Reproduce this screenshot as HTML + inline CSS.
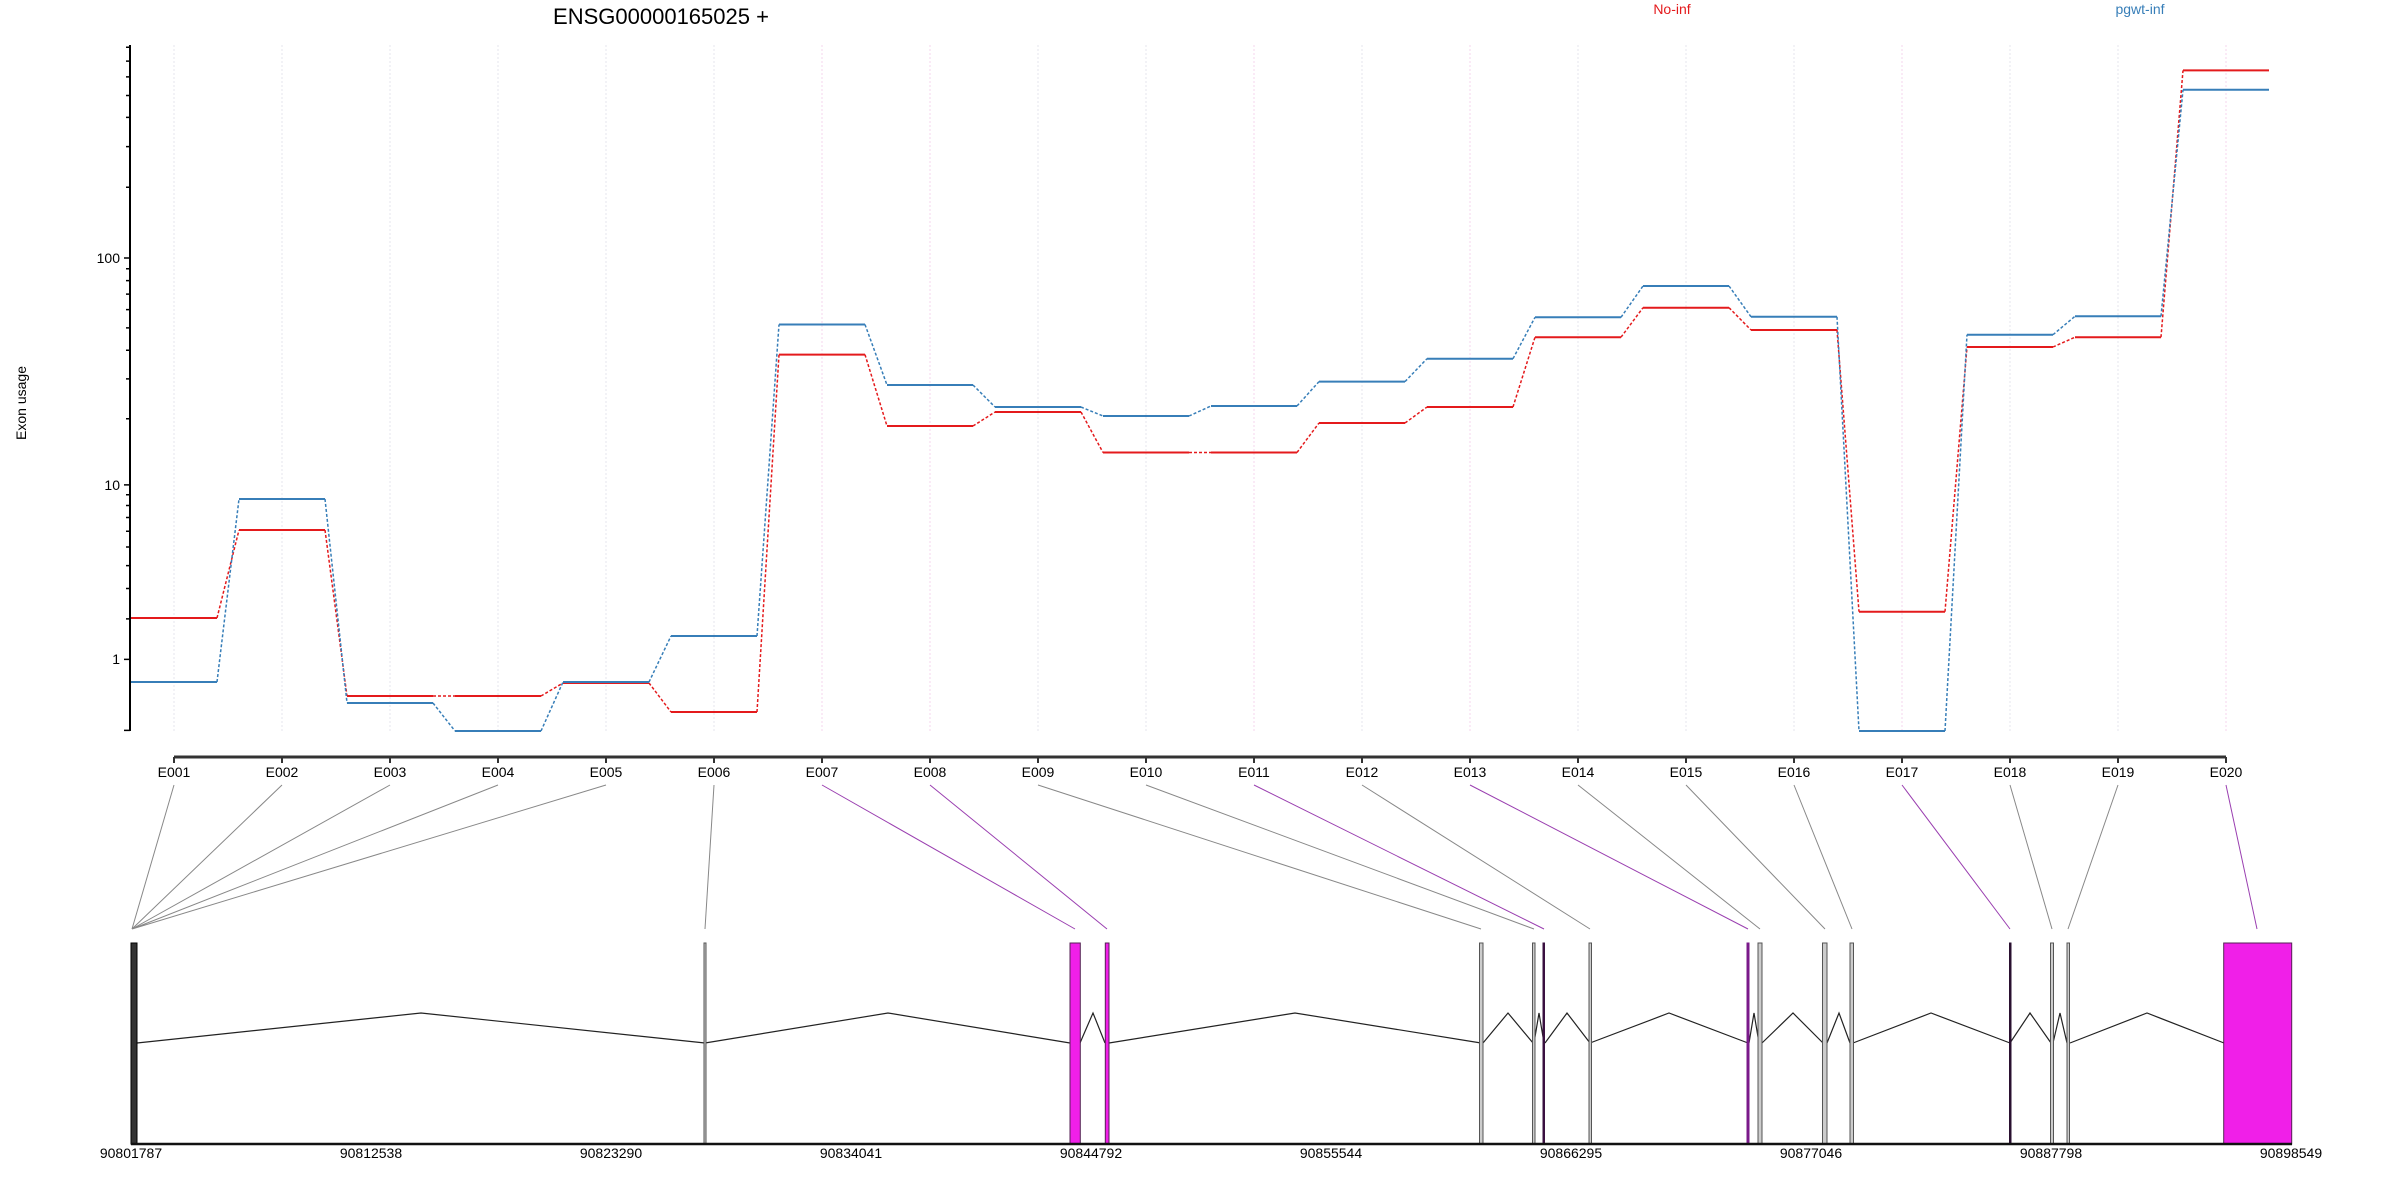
<!DOCTYPE html>
<html><head><meta charset="utf-8"><style>
html,body{margin:0;padding:0;background:#fff;}
svg{display:block;font-family:"Liberation Sans",sans-serif;}
</style></head><body>
<svg width="2400" height="1200" viewBox="0 0 2400 1200" xmlns="http://www.w3.org/2000/svg">
<rect width="2400" height="1200" fill="#fff"/>
<g stroke-width="1" stroke-dasharray="2,2">
<path d="M174 45V731M282 45V731M390 45V731M498 45V731M606 45V731M714 45V731M1038 45V731M1146 45V731M1362 45V731M1578 45V731M1686 45V731M1794 45V731M1902 45V731M2010 45V731M2118 45V731" stroke="#e4e4ec"/>
<path d="M822 45V731M930 45V731M1254 45V731M1470 45V731M1902 45V731M2226 45V731" stroke="#f6d6ee"/>
</g>
<text x="661" y="24" font-size="22" text-anchor="middle" fill="#000">ENSG00000165025 +</text>
<text x="1672" y="14" font-size="14" text-anchor="middle" fill="#e41a1c">No-inf</text>
<text x="2140" y="14" font-size="14" text-anchor="middle" fill="#377eb8">pgwt-inf</text>
<text transform="translate(26,403) rotate(-90)" font-size="14" text-anchor="middle">Exon usage</text>
<path d="M130 45V731" stroke="#000" stroke-width="2"/>
<path d="M124 730.4H130M124 659.4H130M126 618.9H130M126 588.5H130M126 565.6H130M126 547H130M126 531.2H130M126 517.5H130M126 505.5H130M126 494.7H130M124 484.9H130M126 418.8H130M126 378.9H130M126 350.3H130M126 327.9H130M126 309.6H130M126 294.1H130M126 280.6H130M126 268.7H130M124 258H130M126 187.2H130M126 146.6H130M126 117.4H130M126 95.5H130M126 76.9H130M126 61.1H130M126 47.3H130" stroke="#000" stroke-width="1.5"/>
<g font-size="14" text-anchor="end">
<text x="120" y="263">100</text><text x="120" y="490">10</text><text x="120" y="664">1</text>
</g>
<path d="M217 618L239 530M325 530L347 696M433 696L455 696M541 696L563 683M649 683L671 712M757 712L779 354.6M865 354.6L887 426M973 426L995 412M1081 412L1103 452.5M1189 452.5L1211 452.5M1297 452.5L1319 423M1405 423L1427 407M1513 407L1535 337.2M1621 337.2L1643 307.7M1729 307.7L1751 330M1837 330L1859 611.7M1945 611.7L1967 347M2053 347L2075 337.2M2161 337.2L2183 70.4" stroke="#e41a1c" stroke-width="1.5" stroke-dasharray="3,2" fill="none"/>
<path d="M217 682L239 499M325 499L347 703M433 703L455 731M541 731L563 682M649 682L671 636M757 636L779 324.5M865 324.5L887 385M973 385L995 407M1081 407L1103 416M1189 416L1211 406M1297 406L1319 381.6M1405 381.6L1427 358.7M1513 358.7L1535 317.3M1621 317.3L1643 286M1729 286L1751 316.8M1837 316.8L1859 731M1945 731L1967 334.7M2053 334.7L2075 316.3M2161 316.3L2183 89.8" stroke="#377eb8" stroke-width="1.5" stroke-dasharray="3,2" fill="none"/>
<path d="M131 618H217M239 530H325M347 696H433M455 696H541M563 683H649M671 712H757M779 354.6H865M887 426H973M995 412H1081M1103 452.5H1189M1211 452.5H1297M1319 423H1405M1427 407H1513M1535 337.2H1621M1643 307.7H1729M1751 330H1837M1859 611.7H1945M1967 347H2053M2075 337.2H2161M2183 70.4H2269" stroke="#e41a1c" stroke-width="2" fill="none"/>
<path d="M131 682H217M239 499H325M347 703H433M455 731H541M563 682H649M671 636H757M779 324.5H865M887 385H973M995 407H1081M1103 416H1189M1211 406H1297M1319 381.6H1405M1427 358.7H1513M1535 317.3H1621M1643 286H1729M1751 316.8H1837M1859 731H1945M1967 334.7H2053M2075 316.3H2161M2183 89.8H2269" stroke="#377eb8" stroke-width="2" fill="none"/>
<path d="M174 757H2226" stroke="#333" stroke-width="3"/>
<path d="M174 757V763M282 757V763M390 757V763M498 757V763M606 757V763M714 757V763M822 757V763M930 757V763M1038 757V763M1146 757V763M1254 757V763M1362 757V763M1470 757V763M1578 757V763M1686 757V763M1794 757V763M1902 757V763M2010 757V763M2118 757V763M2226 757V763" stroke="#333" stroke-width="2"/>
<g font-size="14" text-anchor="middle">
<text x="174" y="777">E001</text><text x="282" y="777">E002</text><text x="390" y="777">E003</text><text x="498" y="777">E004</text><text x="606" y="777">E005</text><text x="714" y="777">E006</text><text x="822" y="777">E007</text><text x="930" y="777">E008</text><text x="1038" y="777">E009</text><text x="1146" y="777">E010</text><text x="1254" y="777">E011</text><text x="1362" y="777">E012</text><text x="1470" y="777">E013</text><text x="1578" y="777">E014</text><text x="1686" y="777">E015</text><text x="1794" y="777">E016</text><text x="1902" y="777">E017</text><text x="2010" y="777">E018</text><text x="2118" y="777">E019</text><text x="2226" y="777">E020</text>
</g>
<path d="M174 785L132 929M282 785L132 929M390 785L132 929M498 785L132 929M606 785L132 929M714 785L705 929M1038 785L1481 929M1146 785L1534 929M1362 785L1590 929M1578 785L1760 929M1686 785L1825 929M1794 785L1852 929M2010 785L2052 929M2118 785L2068 929" stroke="#888" stroke-width="1" fill="none"/>
<path d="M822 785L1075 929M930 785L1107 929M1254 785L1544 929M1470 785L1748 929M1902 785L2010 929M2226 785L2257 929" stroke="#9a3fb0" stroke-width="1" fill="none"/>
<path d="M137 1043L421 1013L705 1043M705 1043L888 1013L1070 1043M1080 1043L1093 1013L1105 1043M1109 1043L1295 1013L1481 1043M1483 1043L1508 1013L1533 1043M1534 1043L1539 1013L1544 1043M1545 1043L1567 1013L1590 1043M1590 1043L1669 1013L1748 1043M1749 1043L1754 1013L1759 1043M1762 1043L1793 1013L1823 1043M1827 1043L1839 1013L1850 1043M1853 1043L1931 1013L2010 1043M2010 1043L2030 1013L2051 1043M2053 1043L2060 1013L2067 1043M2070 1043L2147 1013L2224 1043" stroke="#222" stroke-width="1.2" fill="none"/>
<g stroke="#555" stroke-width="1" fill="#ccc">
<rect x="131" y="943" width="6" height="201" fill="#333" stroke="#000"/>
<rect x="704" y="943" width="2" height="201"/>
<rect x="1479.5" y="943" width="3.5" height="201"/>
<rect x="1532.5" y="943" width="2.5" height="201"/>
<rect x="1589" y="943" width="2.5" height="201"/>
<rect x="1758" y="943" width="4" height="201"/>
<rect x="1822.5" y="943" width="4.5" height="201"/>
<rect x="1850" y="943" width="3.5" height="201"/>
<rect x="2050.5" y="943" width="3" height="201"/>
<rect x="2067" y="943" width="2.5" height="201"/>
</g>
<rect x="1543" y="943" width="1.5" height="201" fill="#3a1040" stroke="#3a1040" stroke-width="1"/>
<rect x="1747" y="943" width="2" height="201" fill="#7a1a8a" stroke="#7a1a8a" stroke-width="1"/>
<rect x="2009.5" y="943" width="1.5" height="201" fill="#2a1030" stroke="#2a1030" stroke-width="1"/>
<g fill="#f01fe8" stroke="#552255" stroke-width="1">
<rect x="1070" y="943" width="10.3" height="201"/>
<rect x="1105.3" y="943" width="3.7" height="201"/>
<rect x="2223.7" y="943" width="68" height="201"/>
</g>
<path d="M131 1144H2292" stroke="#111" stroke-width="2.5"/>
<g font-size="14" text-anchor="middle">
<text x="131" y="1158">90801787</text><text x="371" y="1158">90812538</text><text x="611" y="1158">90823290</text><text x="851" y="1158">90834041</text><text x="1091" y="1158">90844792</text><text x="1331" y="1158">90855544</text><text x="1571" y="1158">90866295</text><text x="1811" y="1158">90877046</text><text x="2051" y="1158">90887798</text><text x="2291" y="1158">90898549</text>
</g>
</svg>
</body></html>
